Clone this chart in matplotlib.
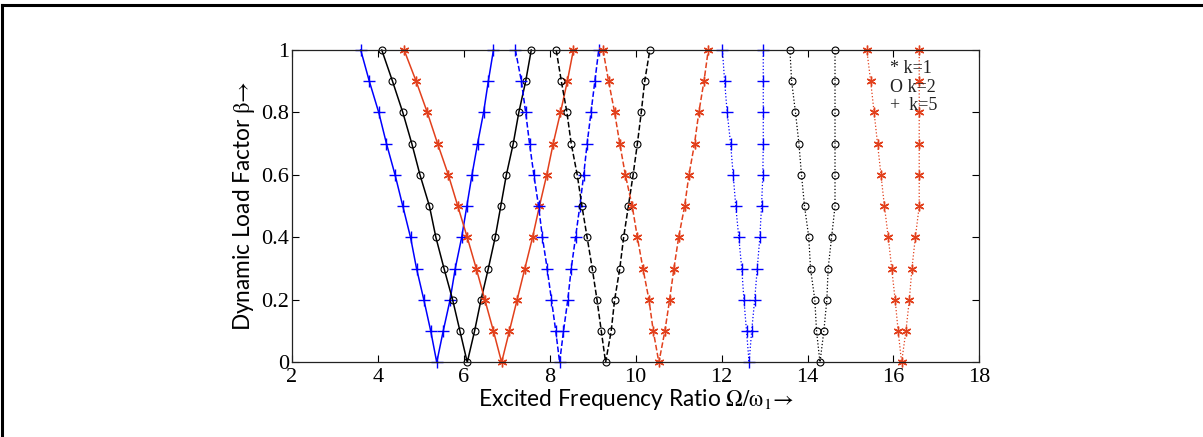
import numpy as np
import matplotlib
matplotlib.use("Agg")
import matplotlib.pyplot as plt
from matplotlib.lines import Line2D

# dynamic load factor: down the left boundary (1 -> 0), up the right one (0.1 -> 1)
beta = [1.0, 0.9, 0.8, 0.7, 0.6, 0.5, 0.4, 0.3, 0.2, 0.1, 0.0,
        0.1, 0.2, 0.3, 0.4, 0.5, 0.6, 0.7, 0.8, 0.9, 1.0]

# first instability region
k5_r1 = [3.60, 3.80, 4.02, 4.20, 4.40, 4.58, 4.76, 4.90, 5.07, 5.23, 5.37,
         5.52, 5.68, 5.80, 5.95, 6.07, 6.19, 6.32, 6.46, 6.57, 6.69]
k2_r1 = [4.09, 4.34, 4.58, 4.79, 4.98, 5.20, 5.35, 5.54, 5.74, 5.91, 6.08,
         6.25, 6.40, 6.57, 6.73, 6.86, 6.99, 7.15, 7.28, 7.44, 7.57]
k1_r1 = [4.61, 4.89, 5.15, 5.39, 5.64, 5.86, 6.08, 6.29, 6.49, 6.69, 6.88,
         7.06, 7.24, 7.42, 7.60, 7.76, 7.93, 8.08, 8.25, 8.41, 8.55]

# second instability region
k5_r2 = [7.20, 7.34, 7.44, 7.53, 7.63, 7.74, 7.83, 7.94, 8.04, 8.14, 8.23,
         8.32, 8.42, 8.50, 8.60, 8.70, 8.79, 8.87, 8.96, 9.05, 9.14]
k2_r2 = [8.15, 8.27, 8.40, 8.50, 8.64, 8.75, 8.87, 8.99, 9.10, 9.20, 9.30,
         9.43, 9.51, 9.63, 9.72, 9.83, 9.94, 10.04, 10.13, 10.21, 10.33]
k1_r2 = [9.24, 9.37, 9.51, 9.63, 9.76, 9.92, 10.04, 10.17, 10.31, 10.41, 10.54,
         10.68, 10.79, 10.89, 11.00, 11.14, 11.24, 11.37, 11.47, 11.59, 11.69]

# third instability region
k5_r3 = [12.02, 12.07, 12.13, 12.21, 12.27, 12.33, 12.40, 12.47, 12.52, 12.58, 12.64,
         12.70, 12.77, 12.83, 12.89, 12.93, 12.96, 12.97, 12.97, 12.97, 12.97]
k2_r3 = [13.59, 13.63, 13.72, 13.80, 13.86, 13.93, 14.03, 14.07, 14.17, 14.21, 14.29,
         14.38, 14.45, 14.48, 14.56, 14.64, 14.64, 14.64, 14.64, 14.64, 14.64]
k1_r3 = [15.38, 15.47, 15.55, 15.63, 15.71, 15.79, 15.88, 15.96, 16.04, 16.11, 16.19,
         16.29, 16.37, 16.43, 16.51, 16.60, 16.60, 16.60, 16.60, 16.60, 16.60]

x_ticks = [2, 4, 6, 8, 10, 12, 14, 16, 18]
y_ticks = [0, 0.2, 0.4, 0.6, 0.8, 1.0]
y_ticklabels = ["0", "0.2", "0.4", "0.6", "0.8", "1"]
key_lines = ["* k=1", "O k=2", "+  k=5"]

red = "#e2401c"
asterisk = (6, 2, 0)

plt.rcParams["mathtext.fontset"] = "stix"

fig = plt.figure(figsize=(12.03, 4.37), dpi=100)
ax = fig.add_axes([0.2427, 0.1709, 0.8141 - 0.2427, 0.8856 - 0.1709])

styles = {"k5": dict(color="blue", marker="+", ms=8, mew=1.0),
          "k2": dict(color="black", marker="o", ms=5, mfc="none", mew=0.8),
          "k1": dict(color=red, marker=asterisk, ms=7, mew=1.0)}

for ls, lw, series in [("-", 1.1, (k5_r1, k2_r1, k1_r1)),
                       ("--", 1.1, (k5_r2, k2_r2, k1_r2)),
                       (":", 0.9, (k5_r3, k2_r3, k1_r3))]:
    for key, xs in zip(("k5", "k2", "k1"), series):
        ax.plot(xs, beta, linestyle=ls, lw=lw, clip_on=False, **styles[key])

ax.set_xlim(2, 18)
ax.set_ylim(0, 1)
ax.set_xticks(x_ticks)
ax.set_yticks(y_ticks)
ax.set_yticklabels(y_ticklabels)
ax.tick_params(direction="in", top=True, right=True, length=5, width=0.8,
               labelsize=16)
ax.tick_params(axis="x", pad=4)
ax.tick_params(axis="y", pad=2)
for lab in ax.get_xticklabels() + ax.get_yticklabels():
    lab.set_fontfamily("Liberation Serif")
for sp in ax.spines.values():
    sp.set_linewidth(0.9)
    sp.set_color("#222222")

ax.set_xlabel(r"Excited Frequency Ratio $\mathrm{Ω/ω_1→}$",
              fontsize=16.3, family="Lato", labelpad=0)
ax.set_ylabel(r"Dynamic Load Factor $\mathrm{β→}$",
              fontsize=16.3, family="Lato", labelpad=3)

for i, txt in enumerate(key_lines):
    ax.text(15.92, 0.941 - 0.06 * i, txt, fontsize=13, family="Liberation Serif",
            va="center", ha="left", color="#222222")

# outer frame along the top and left edges
fig.add_artist(Line2D([0.002, 1.0], [0.988, 0.988], color="black", lw=2.2))
fig.add_artist(Line2D([0.002, 0.002], [0.0, 0.988], color="black", lw=2.2))

fig.savefig("out.png", dpi=100)
